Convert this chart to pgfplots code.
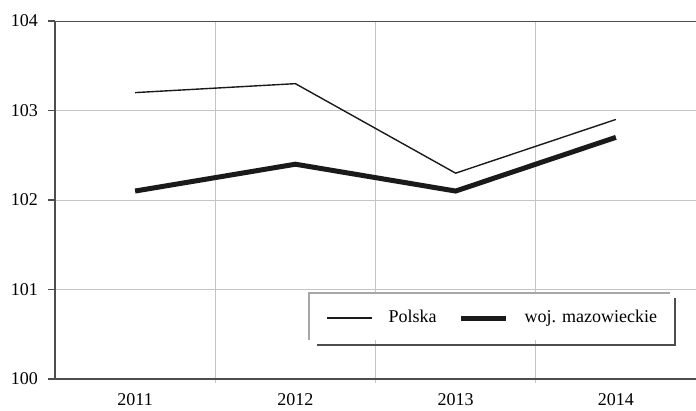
\documentclass[border=0pt]{standalone}
\usepackage{pgfplots}
\pgfplotsset{compat=1.18}
\usepackage{fontspec}
\setmainfont{Liberation Serif}

\definecolor{axisgray}{HTML}{4D4D4D}
\definecolor{gridgray}{HTML}{C4C4C4}
\definecolor{linedark}{HTML}{1A1A1A}

\begin{document}
\fontsize{18}{21}\selectfont
\begin{tikzpicture}
\useasboundingbox (-55pt,-31pt) rectangle (641pt,379pt);
\begin{axis}[
  at={(0,0)}, anchor=south west,
  scale only axis,
  width=641pt, height=358pt,
  xmin=-0.5, xmax=3.5,
  ymin=100, ymax=104,
  xtick={0,1,2,3},
  xticklabels={2011,2012,2013,2014},
  minor xtick={0.5,1.5,2.5},
  ytick={100,101,102,103,104},
  axis lines*=left,
  axis line style={draw=axisgray, line width=1.6pt},
  tick align=outside,
  major tick length=7pt,
  minor tick length=4pt,
  major x tick style={draw=none},
  minor x tick style={draw=gridgray, line width=0.8pt},
  ytick style={draw=axisgray, line width=1.2pt},
  ymajorgrids, xminorgrids,
  major grid style={draw=gridgray, line width=0.8pt},
  minor grid style={draw=gridgray, line width=0.8pt},
  /pgf/number format/assume math mode=true,
  ticklabel style={font=\fontsize{18}{21}\selectfont, text=black},
  yticklabel style={xshift=-4pt},
  xticklabel style={yshift=-1pt},
  legend columns=2,
  legend style={draw=none, fill=none, inner sep=0pt,
    at={(axis description cs:0.4228,0.1704)}, anchor=west,
    font=\fontsize{18}{21}\selectfont,
    /tikz/every odd column/.append style={column sep=14pt},
    /tikz/every even column/.append style={column sep=20pt}},
  legend image code/.code={\draw[#1] (0pt,0pt) -- (45pt,0pt);},
]
\addplot[linedark, line width=1.4pt] coordinates {
  (0,103.2) (1,103.3) (2,102.3) (3,102.9)
};
\addlegendentry{Polska}
\addplot[linedark, line width=5pt] coordinates {
  (0,102.1) (1,102.4) (2,102.1) (3,102.7)
};
\addlegendentry{woj. mazowieckie}
\draw[axisgray, line width=1.6pt] (rel axis cs:0,1) -- (rel axis cs:1,1);
% legend frame: light top/left, dark offset shadow right/bottom
\fill[white] (axis description cs:0.3962,0.1090) rectangle (axis description cs:0.9594,0.2402);
\draw[gridgray!85!black, line width=2pt]
  (axis description cs:0.3962,0.1090) -- (axis description cs:0.3962,0.2402)
  -- (axis description cs:0.9594,0.2402);
\draw[axisgray, line width=2.5pt]
  (axis description cs:0.4087,0.0950) -- (axis description cs:0.9672,0.0950)
  -- (axis description cs:0.9672,0.2262);
\end{axis}
\end{tikzpicture}
\end{document}
